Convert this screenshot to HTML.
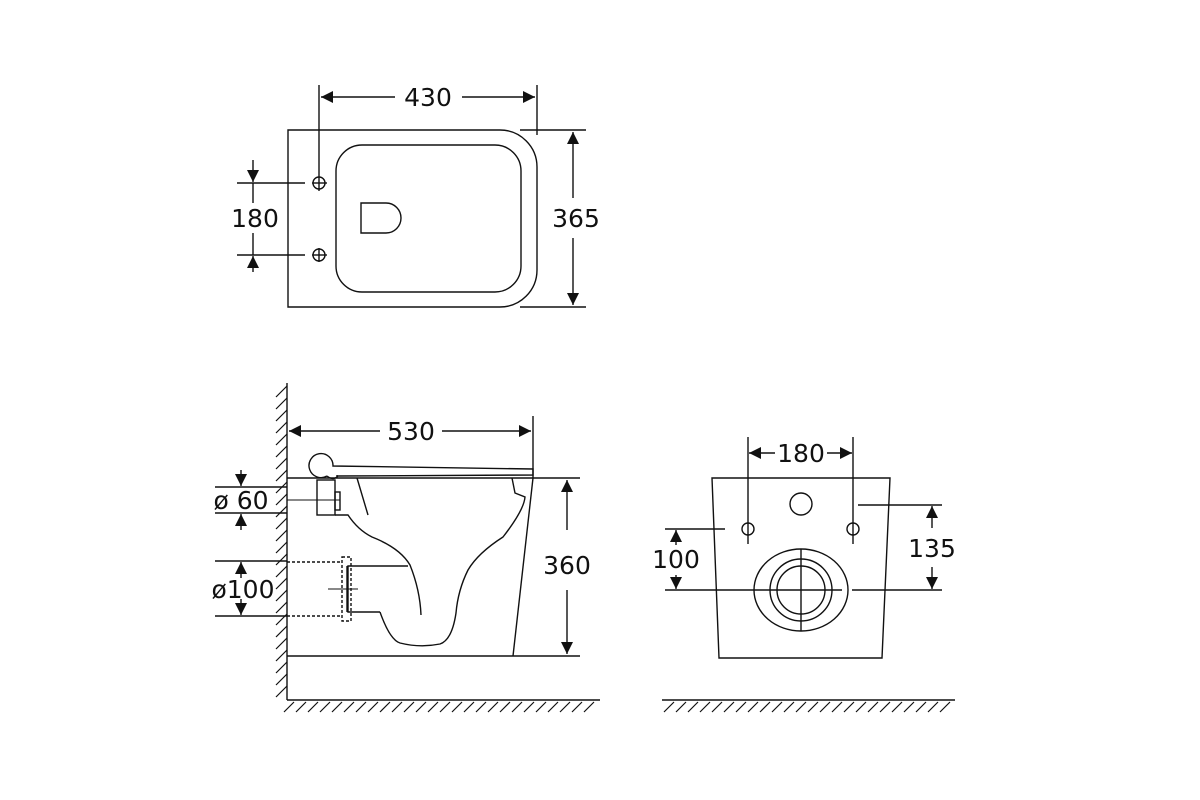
<!DOCTYPE html>
<html><head><meta charset="utf-8"><style>
html,body{margin:0;padding:0;background:#fff;}
svg{display:block;}
text{font-family:"DejaVu Sans","Liberation Sans",sans-serif;font-size:25px;fill:#111;font-weight:normal;}
</style></head><body>
<svg width="1200" height="800" viewBox="0 0 1200 800" xmlns="http://www.w3.org/2000/svg">
<defs>
<marker id="a" viewBox="0 0 10 10" refX="10" refY="5" markerWidth="17" markerHeight="12" markerUnits="userSpaceOnUse" orient="auto"><path d="M0,0L10,5L0,10z" fill="#111"/></marker>
</defs>
<g fill="none" stroke="#111" stroke-width="1.4">
<path d="M288,130 H500 A37,37 0 0 1 537,167 V270 A37,37 0 0 1 500,307 H288 Z"/>
<rect x="336" y="145" width="185" height="147" rx="26"/>
<path d="M361,203 H386 A15,15 0 0 1 386,233 H361 Z"/>
<circle cx="319" cy="183" r="6"/><circle cx="319" cy="255" r="6"/>
<line x1="312" y1="183" x2="327" y2="183"/><line x1="312" y1="255" x2="327" y2="255"/>
<line x1="319" y1="85" x2="319" y2="191"/><line x1="319" y1="248" x2="319" y2="262"/>
<line x1="537" y1="85" x2="537" y2="135"/>
<line x1="395" y1="97" x2="321" y2="97" marker-end="url(#a)"/>
<line x1="462" y1="97" x2="535" y2="97" marker-end="url(#a)"/>
<line x1="520" y1="130" x2="586" y2="130"/><line x1="520" y1="307" x2="586" y2="307"/>
<line x1="573" y1="198" x2="573" y2="132" marker-end="url(#a)"/>
<line x1="573" y1="238" x2="573" y2="305" marker-end="url(#a)"/>
<line x1="237" y1="183" x2="305" y2="183"/><line x1="237" y1="255" x2="305" y2="255"/>
<line x1="253" y1="166" x2="253" y2="182" marker-end="url(#a)"/>
<line x1="253" y1="272" x2="253" y2="256" marker-end="url(#a)"/>
<line x1="253" y1="160" x2="253" y2="166"/><line x1="253" y1="183" x2="253" y2="203"/><line x1="253" y1="233" x2="253" y2="255"/>

<path stroke-width="1.2" d="M276 397l11-11M276 409l11-11M276 421l11-11M276 433l11-11M276 445l11-11M276 457l11-11M276 469l11-11M276 481l11-11M276 493l11-11M276 505l11-11M276 517l11-11M276 529l11-11M276 541l11-11M276 553l11-11M276 565l11-11M276 577l11-11M276 589l11-11M276 601l11-11M276 613l11-11M276 625l11-11M276 637l11-11M276 649l11-11M276 661l11-11M276 673l11-11M276 685l11-11M276 697l11-11"/>
<path stroke-width="1.2" d="M284 712l10-10M296 712l10-10M308 712l10-10M320 712l10-10M332 712l10-10M344 712l10-10M356 712l10-10M368 712l10-10M380 712l10-10M392 712l10-10M404 712l10-10M416 712l10-10M428 712l10-10M440 712l10-10M452 712l10-10M464 712l10-10M476 712l10-10M488 712l10-10M500 712l10-10M512 712l10-10M524 712l10-10M536 712l10-10M548 712l10-10M560 712l10-10M572 712l10-10M584 712l10-10"/>
<line x1="287" y1="383" x2="287" y2="700"/>
<line x1="287" y1="700" x2="600" y2="700"/>
<line x1="533" y1="416" x2="533" y2="478"/>
<line x1="380" y1="431" x2="289" y2="431" marker-end="url(#a)"/>
<line x1="442" y1="431" x2="531" y2="431" marker-end="url(#a)"/>
<path d="M327,476 A12,12 0 1 1 333,466 L533,469 V475 L338,476 Q333,481 327,476"/>
<line x1="337" y1="475" x2="337" y2="478"/>
<line x1="287" y1="478" x2="580" y2="478"/>
<line x1="287" y1="656" x2="580" y2="656"/>
<line x1="533" y1="478" x2="513" y2="656"/>
<line x1="567" y1="530" x2="567" y2="480" marker-end="url(#a)"/>
<line x1="567" y1="590" x2="567" y2="654" marker-end="url(#a)"/>
<rect x="317" y="480" width="18" height="35"/>
<rect x="335" y="492" width="5" height="18"/>
<line x1="287" y1="500" x2="340" y2="500" stroke-width="0.9"/>
<line x1="357" y1="478" x2="368" y2="515"/>
<path d="M335,515 H348 Q358,530 372,537 Q400,548 410,565 Q420,590 421,615"/>
<path d="M512,478 L515,493 Q520,495 525,497 Q524,510 503,537 Q478,553 468,570 Q458,590 456,613 Q452,640 440,644 Q420,648 400,643 Q390,640 380,612"/>
<path d="M408,566 H348 V612 H380"/>
<rect x="342" y="557" width="9" height="64" stroke-dasharray="3,2"/>
<line x1="347" y1="566" x2="347" y2="612"/>
<line x1="328" y1="589" x2="358" y2="589" stroke-width="0.9"/>
<line x1="287" y1="562" x2="342" y2="562" stroke-dasharray="3,2"/>
<line x1="287" y1="616" x2="342" y2="616" stroke-dasharray="3,2"/>
<line x1="215" y1="487" x2="287" y2="487"/><line x1="215" y1="513" x2="287" y2="513"/>
<line x1="241" y1="470" x2="241" y2="486" marker-end="url(#a)"/>
<line x1="241" y1="530" x2="241" y2="514" marker-end="url(#a)"/>
<line x1="215" y1="561" x2="287" y2="561"/><line x1="215" y1="616" x2="287" y2="616"/>
<line x1="241" y1="578" x2="241" y2="562" marker-end="url(#a)"/>
<line x1="241" y1="599" x2="241" y2="615" marker-end="url(#a)"/>

<path d="M712,478 H890 L882,658 H719 Z"/>
<line x1="748" y1="437" x2="748" y2="544"/><line x1="853" y1="437" x2="853" y2="544"/>
<line x1="775" y1="453" x2="749" y2="453" marker-end="url(#a)"/>
<line x1="827" y1="453" x2="852" y2="453" marker-end="url(#a)"/>
<circle cx="801" cy="504" r="11"/>
<circle cx="748" cy="529" r="6"/><circle cx="853" cy="529" r="6"/>
<ellipse cx="801" cy="590" rx="47" ry="41"/>
<circle cx="801" cy="590" r="31"/><circle cx="801" cy="590" r="24"/>
<line x1="801" y1="549" x2="801" y2="631"/>
<line x1="665" y1="590" x2="842" y2="590"/><line x1="852" y1="590" x2="942" y2="590"/>
<line x1="665" y1="529" x2="725" y2="529"/>
<line x1="676" y1="545" x2="676" y2="530" marker-end="url(#a)"/>
<line x1="676" y1="575" x2="676" y2="589" marker-end="url(#a)"/>
<line x1="858" y1="505" x2="942" y2="505"/>
<line x1="932" y1="528" x2="932" y2="506" marker-end="url(#a)"/>
<line x1="932" y1="567" x2="932" y2="589" marker-end="url(#a)"/>
<path stroke-width="1.2" d="M664 712l10-10M676 712l10-10M688 712l10-10M700 712l10-10M712 712l10-10M724 712l10-10M736 712l10-10M748 712l10-10M760 712l10-10M772 712l10-10M784 712l10-10M796 712l10-10M808 712l10-10M820 712l10-10M832 712l10-10M844 712l10-10M856 712l10-10M868 712l10-10M880 712l10-10M892 712l10-10M904 712l10-10M916 712l10-10M928 712l10-10M940 712l10-10"/>
<line x1="662" y1="700" x2="955" y2="700"/>
</g>
<g text-anchor="middle">
<text x="428" y="106">430</text>
<text x="576" y="227">365</text>
<text x="255" y="227">180</text>
<text x="411" y="440">530</text>
<text x="567" y="574">360</text>
<text x="241" y="509">ø 60</text>
<text x="243" y="598">ø100</text>
<text x="801" y="462">180</text>
<text x="676" y="568">100</text>
<text x="932" y="557">135</text>
</g>
</svg>
</body></html>
